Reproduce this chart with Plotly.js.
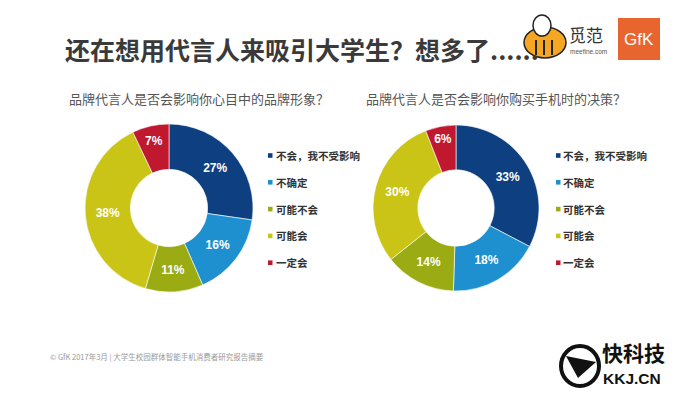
<!DOCTYPE html>
<html>
<head>
<meta charset="utf-8">
<script src="https://cdn.plot.ly/plotly-3.0.1.min.js"></script>
<style>html,body{margin:0;padding:0;background:#fff;}#chart{width:684px;height:393px;}</style>
</head>
<body>
<div id="chart"></div>
<script>
// ---- data ----
var categories = ["不会，我不受影响", "不确定", "可能不会", "可能会", "一定会"];
var brandImageValues = [27, 16, 11, 38, 7];
var purchaseDecisionValues = [33, 18, 14, 30, 6];
var sliceColors = ["#0e3f80", "#1e90cf", "#9aab14", "#c9c415", "#c0182f"];
var chartTitle = "还在想用代言人来吸引大学生？想多了......";
var leftSubtitle = "品牌代言人是否会影响你心目中的品牌形象？";
var rightSubtitle = "品牌代言人是否会影响你购买手机时的决策？";
var footerText = "© GfK 2017年3月 | 大学生校园群体智能手机消费者研究报告摘要";

// ---- layout helpers ----
var W = 684, H = 393;
function px(x){ return x / W; }
function py(y){ return 1 - y / H; }

var cjk = "'Noto Sans CJK SC', 'Noto Sans', sans-serif";
var latin = "'Liberation Sans', Arial, sans-serif";

function donut(values, x0, x1, y0, y1){
  return {
    type: "pie",
    labels: categories,
    values: values,
    sort: false,
    direction: "clockwise",
    rotation: 0,
    hole: 0.46,
    domain: {x: [px(x0), px(x1)], y: [py(y1), py(y0)]},
    marker: {colors: sliceColors, line: {color: "#ffffff", width: 0.6}},
    texttemplate: "%{value}%",
    textposition: "inside",
    insidetextorientation: "horizontal",
    textfont: {family: latin, size: 12, color: "#ffffff", weight: "bold"},
    showlegend: false,
    hoverinfo: "label+value"
  };
}

var data = [
  donut(brandImageValues, 85, 253, 124, 292),
  donut(purchaseDecisionValues, 373, 539, 125, 291)
];

var annotations = [];
var shapes = [];

// title & subtitles
annotations.push({text: "<b>" + chartTitle + "</b>", x: px(63), y: py(49), xref: "paper", yref: "paper",
  xanchor: "left", yanchor: "middle", showarrow: false, font: {family: cjk, size: 25, color: "#3a3a3a"}});
annotations.push({text: leftSubtitle, x: px(67), y: py(98), xref: "paper", yref: "paper",
  xanchor: "left", yanchor: "middle", showarrow: false, font: {family: cjk, size: 13, color: "#555555"}});
annotations.push({text: rightSubtitle, x: px(364), y: py(98), xref: "paper", yref: "paper",
  xanchor: "left", yanchor: "middle", showarrow: false, font: {family: cjk, size: 13, color: "#555555"}});

// legends
function legend(markerX, textX){
  for (var i = 0; i < categories.length; i++){
    var yc = 155.5 + i * 26.8;
    shapes.push({type: "rect", xref: "paper", yref: "paper",
      x0: px(markerX), x1: px(markerX + 4.5), y0: py(yc + 2.3), y1: py(yc - 2.3),
      fillcolor: sliceColors[i], line: {width: 0}});
    annotations.push({text: "<b>" + categories[i] + "</b>", x: px(textX), y: py(yc), xref: "paper", yref: "paper",
      xanchor: "left", yanchor: "middle", showarrow: false, font: {family: cjk, size: 10.5, color: "#333333"}});
  }
}
legend(268, 274);
legend(556, 561);

// footer
annotations.push({text: footerText, x: px(48), y: py(356), xref: "paper", yref: "paper",
  xanchor: "left", yanchor: "middle", showarrow: false, font: {family: cjk, size: 7.5, color: "#999999"}});

// meefine logo (bee)
shapes.push({type: "circle", xref: "paper", yref: "paper", layer: "below", x0: px(524), x1: px(566), y0: py(58), y1: py(27),
  fillcolor: "#f5a623", line: {color: "#222", width: 1.5}});
shapes.push({type: "circle", xref: "paper", yref: "paper", layer: "below", x0: px(533), x1: px(551), y0: py(36), y1: py(15),
  fillcolor: "#ffffff", line: {color: "#222", width: 1.5}});
[536, 544, 552].forEach(function(x){
  shapes.push({type: "line", xref: "paper", yref: "paper", layer: "below", x0: px(x), x1: px(x), y0: py(40), y1: py(55),
    line: {color: "#222", width: 2}});
});
annotations.push({text: "觅范", x: px(567), y: py(34), xref: "paper", yref: "paper",
  xanchor: "left", yanchor: "middle", showarrow: false, font: {family: cjk, size: 17, color: "#333333"}});
annotations.push({text: "meefine.com", x: px(568), y: py(51), xref: "paper", yref: "paper",
  xanchor: "left", yanchor: "middle", showarrow: false, font: {family: latin, size: 6.5, color: "#555555"}});

// GfK logo
shapes.push({type: "rect", xref: "paper", yref: "paper", x0: px(618), x1: px(660), y0: py(60), y1: py(18),
  fillcolor: "#e9652f", line: {width: 0}});
annotations.push({text: "GfK", x: px(639), y: py(39), xref: "paper", yref: "paper",
  xanchor: "center", yanchor: "middle", showarrow: false, font: {family: latin, size: 17, color: "#ffffff"}});

// KKJ logo
shapes.push({type: "circle", xref: "paper", yref: "paper", x0: px(561), x1: px(599), y0: py(386), y1: py(346),
  fillcolor: "rgba(0,0,0,0)", line: {color: "#111", width: 4}});
shapes.push({type: "path", xref: "paper", yref: "paper",
  path: "M" + px(566) + "," + py(356) + " L" + px(596) + "," + py(362) + " L" + px(578) + "," + py(378) + " Z",
  fillcolor: "#111", line: {width: 0}});
annotations.push({text: "<b>快科技</b>", x: px(601), y: py(352), xref: "paper", yref: "paper",
  xanchor: "left", yanchor: "middle", showarrow: false, borderpad: 0,
  font: {family: cjk, size: 21, color: "#111111"}});
annotations.push({text: "<b>KKJ.CN</b>", x: px(602), y: py(378), xref: "paper", yref: "paper",
  xanchor: "left", yanchor: "middle", showarrow: false, borderpad: 0,
  font: {family: latin, size: 15.5, color: "#111111"}});

var layout = {
  width: W, height: H,
  margin: {l: 0, r: 0, t: 0, b: 0},
  paper_bgcolor: "#ffffff",
  plot_bgcolor: "#ffffff",
  showlegend: false,
  annotations: annotations,
  shapes: shapes
};

Plotly.newPlot("chart", data, layout, {displayModeBar: false, staticPlot: true});
</script>
</body>
</html>
